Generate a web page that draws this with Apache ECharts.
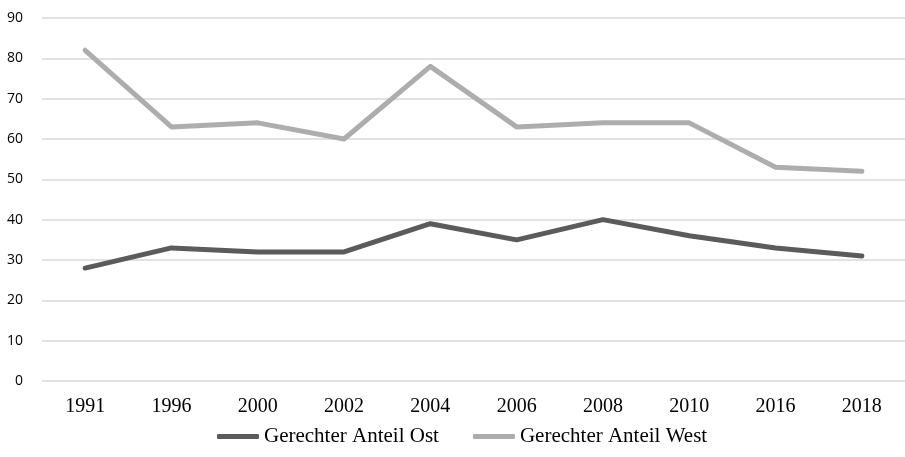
<!DOCTYPE html>
<html><head><meta charset="utf-8">
<script src="https://cdn.jsdelivr.net/npm/echarts@6/dist/echarts.min.js"></script>
<style>html,body{margin:0;padding:0;background:#fff}#c{width:905px;height:457px}</style>
</head><body><div id="c"></div>
<script>
const categories = ['1991','1996','2000','2002','2004','2006','2008','2010','2016','2018'];
const ost = [28, 33, 32, 32, 39, 35, 40, 36, 33, 31];
const west = [82, 63, 64, 60, 78, 63, 64, 64, 53, 52];
const seriesNames = ['Gerechter Anteil Ost', 'Gerechter Anteil West'];
const chart = echarts.init(document.getElementById('c'));
chart.setOption({
  animation: false,
  grid: { left: 42, right: 0, top: 18, bottom: 76 },
  legend: {
    bottom: 5, left: 212, itemGap: 34, itemWidth: 42, itemHeight: 5, icon: 'roundRect',
    textStyle: { fontFamily: 'Liberation Serif', fontSize: 21, color: '#000' },
    data: seriesNames
  },
  xAxis: {
    type: 'category', data: categories, boundaryGap: true,
    axisLine: { show: false }, axisTick: { show: false },
    axisLabel: { fontFamily: 'Liberation Serif', fontSize: 20, color: '#000', margin: 16 }
  },
  yAxis: {
    type: 'value', min: 0, max: 90, interval: 10,
    axisLine: { show: false }, axisTick: { show: false },
    splitLine: { lineStyle: { color: '#d9d9d9', width: 1.5 } },
    axisLabel: { fontFamily: 'Open Sans', fontSize: 14, color: '#000', margin: 19 }
  },
  series: [
    { name: seriesNames[0], type: 'line', data: ost, symbol: 'none', color: '#5b5b5b',
      lineStyle: { width: 5, color: '#5b5b5b', cap: 'round', join: 'round' } },
    { name: seriesNames[1], type: 'line', data: west, symbol: 'none', color: '#adadad',
      lineStyle: { width: 5, color: '#adadad', cap: 'round', join: 'round' } }
  ]
});
</script></body></html>
